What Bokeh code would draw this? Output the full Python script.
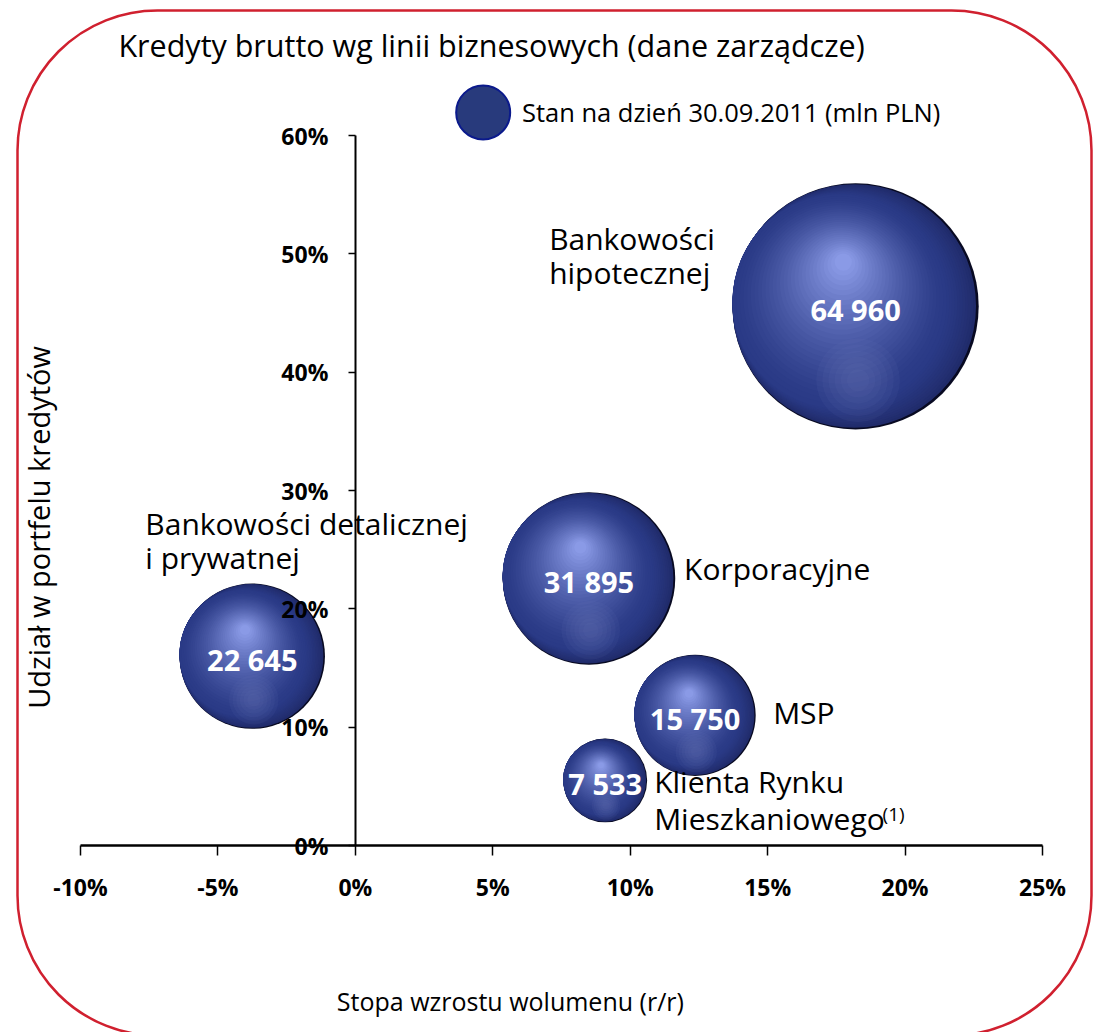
import math
from bokeh.plotting import figure
from bokeh.models import Range1d, FixedTicker, NumeralTickFormatter, BoxAnnotation, Label
from bokeh.core.properties import value
from bokeh.embed import file_html
from bokeh.resources import INLINE

# ---------------- data ----------------
segments = ["Bankowości hipotecznej", "Korporacyjne", "Bankowości detalicznej i prywatnej",
            "MSP", "Klienta Rynku Mieszkaniowego"]
growth = [0.182, 0.085, -0.0375, 0.1236, 0.0909]      # stopa wzrostu wolumenu r/r
share = [0.4556, 0.2257, 0.160, 0.110, 0.055]         # udział w portfelu kredytów
volume = [64960, 31895, 22645, 15750, 7533]           # mln PLN
volume_labels = ["64 960", "31 895", "22 645", "15 750", "7 533"]

x_ticks = [-0.10, -0.05, 0.0, 0.05, 0.10, 0.15, 0.20, 0.25]
y_ticks = [0.0, 0.1, 0.2, 0.3, 0.4, 0.5, 0.6]

name_lines = ["Bankowości", "hipotecznej", "Bankowości detalicznej", "i prywatnej",
              "Korporacyjne", "MSP", "Klienta Rynku", "Mieszkaniowego"]
name_x = [0.0705, 0.0705, -0.0764, -0.0764, 0.1196, 0.152, 0.1087, 0.1087]
name_y = [0.513, 0.4844, 0.2722, 0.2434, 0.2342, 0.1124, 0.0541, 0.0228]

title_text = "Kredyty brutto wg linii biznesowych (dane zarządcze)"
legend_text = "Stan na dzień 30.09.2011 (mln PLN)"
x_title = "Stopa wzrostu wolumenu (r/r)"
y_title = "Udział w portfelu kredytów"

# ---------------- layout (canvas = whole page) ----------------
W, H = 1093, 1032
PX_L, PX_R = 80, 1042     # pixel of x=-10% and x=25%
PY_0, PY_60 = 845, 135    # pixel of y=0% and y=60%
SX = (PX_R - PX_L) / 0.35
SY = (PY_0 - PY_60) / 0.6
X0 = -0.10 - PX_L / SX
X1 = 0.25 + (W - PX_R) / SX
Y0 = -(H - PY_0) / SY
Y1 = PY_0 / SY
K = 0.483  # bubble radius in px per sqrt(mln PLN)
FONT = "Open Sans"
RED = "#d0202f"

p = figure(width=W, height=H, x_range=Range1d(X0, X1), y_range=Range1d(Y0, Y1),
           output_backend="svg", toolbar_location=None, title=None,
           min_border_left=0, min_border_right=0, min_border_top=0, min_border_bottom=0)
p.grid.visible = False
p.outline_line_color = None
p.background_fill_color = "white"
p.border_fill_color = "white"

# rounded red frame
p.add_layout(BoxAnnotation(left=17, right=1091, top=10, bottom=1035,
                           left_units="canvas", right_units="canvas",
                           top_units="canvas", bottom_units="canvas",
                           fill_alpha=0, line_color=RED, line_alpha=1.0, line_width=2.5,
                           border_radius=140, level="underlay"))

# axes crossing at 0
xa = p.xaxis[0]
xa.fixed_location = 0
xa.bounds = (-0.10, 0.25)
xa.ticker = FixedTicker(ticks=x_ticks)
xa.formatter = NumeralTickFormatter(format="0%")
xa.axis_line_width = 2.5
xa.axis_line_color = "black"
xa.major_tick_out = 10
xa.major_tick_in = 0
xa.major_tick_line_width = 1.5
xa.minor_tick_line_color = None
xa.major_label_standoff = 15
xa.major_label_text_font = FONT
xa.major_label_text_font_style = "bold"
xa.major_label_text_font_size = "23px"
xa.major_label_text_color = "black"

ya = p.yaxis[0]
ya.fixed_location = 0
ya.bounds = (0, 0.6)
ya.ticker = FixedTicker(ticks=y_ticks)
ya.formatter = NumeralTickFormatter(format="0%")
ya.axis_line_width = 2
ya.axis_line_color = "black"
ya.major_tick_out = 7
ya.major_tick_in = 0
ya.major_tick_line_width = 1.5
ya.minor_tick_line_color = None
ya.major_label_standoff = 20
ya.major_label_text_font = FONT
ya.major_label_text_font_style = "bold"
ya.major_label_text_font_size = "23px"
ya.major_label_text_color = "black"


# bubbles: layered circles to imitate sphere shading
def mix(c1, c2, t):
    return "#%02x%02x%02x" % tuple(int(round(a + (b - a) * t)) for a, b in zip(c1, c2))

edge = (8, 10, 34)
rim = (30, 40, 100)
body = (42, 58, 134)
hi = (138, 154, 230)
radii = [K * math.sqrt(v) for v in volume]


def layer(fx, fy, fr, color, alpha=1.0):
    p.scatter([g + fx * r / SX for g, r in zip(growth, radii)],
              [s + fy * r / SY for s, r in zip(share, radii)],
              size=[2 * r * fr for r in radii], marker="circle",
              fill_color=color, fill_alpha=alpha, line_color=None)


layer(0, 0, 1.0, mix(edge, edge, 0))
N1 = 12
for i in range(1, N1 + 1):
    t = i / N1
    layer(-0.13 * t, 0.04 * t, 1.0 - 0.13 * t, mix(rim, body, t ** 0.7))
N2 = 28
for i in range(1, N2 + 1):
    u = i / N2
    layer(-0.13 * (1 - u) - 0.10 * u, 0.04 * (1 - u) + 0.36 * u,
          0.87 * (1 - u) + 0.07 * u, mix(body, hi, u ** 1.4))
# soft reflection on the lower part
for i in range(6):
    layer(0.02, -0.6, 0.34 - 0.05 * i, "#7482c0", 0.08)

# values inside bubbles
p.text(growth, [s - 3 / SY for s in share], text=volume_labels, text_align="center",
       text_baseline="middle", text_color="white", text_font=value(FONT),
       text_font_style="bold", text_font_size="29px")

# category names
p.text(name_x, name_y, text=name_lines, text_align="left", text_baseline="middle",
       text_color="black", text_font=value(FONT), text_font_size="30px")
p.text([0.1918], [0.0262], text=["(1)"], text_align="left", text_baseline="middle",
       text_color="black", text_font=value(FONT), text_font_size="19px")

# legend
p.scatter([0.0465], [0.6195], size=54, marker="circle", fill_color="#283a7c",
          line_color="#0b1a8c", line_width=2)
p.text([0.0606], [0.6195], text=[legend_text], text_align="left", text_baseline="middle",
       text_color="black", text_font=value(FONT), text_font_size="25.5px")

# titles
p.add_layout(Label(x=-0.0862, y=0.6762, text=title_text, text_align="left",
                   text_baseline="middle", text_font=FONT, text_font_size="30.5px",
                   text_color="black"))
p.add_layout(Label(x=0.0564, y=-0.131, text=x_title, text_align="center",
                   text_baseline="middle", text_font=FONT, text_font_size="25px",
                   text_color="black"))
p.add_layout(Label(x=-0.1153, y=0.2688, text=y_title, angle=math.pi / 2,
                   text_align="center", text_baseline="middle", text_font=FONT,
                   text_font_size="29px", text_color="black"))

open("out.html", "w").write(file_html(p, INLINE))
